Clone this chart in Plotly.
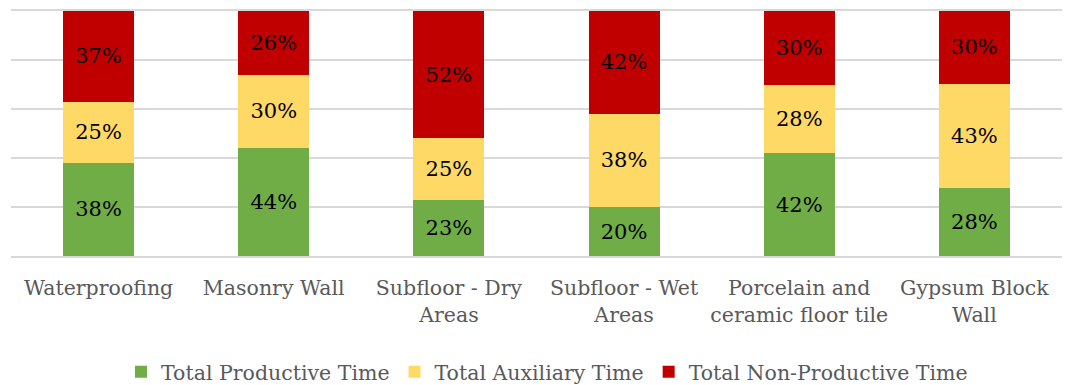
import plotly.graph_objects as go

categories = [
    "Waterproofing",
    "Masonry Wall",
    "Subfloor - Dry<br>Areas",
    "Subfloor - Wet<br>Areas",
    "Porcelain and<br>ceramic floor tile",
    "Gypsum Block<br>Wall",
]
productive = [38, 44, 23, 20, 42, 28]
auxiliary = [25, 30, 25, 38, 28, 43]
non_productive = [37, 26, 52, 42, 30, 30]

series = [
    ("Total Productive Time", productive, "#70AD47"),
    ("Total Auxiliary Time", auxiliary, "#FFD966"),
    ("Total Non-Productive Time", non_productive, "#C00000"),
]

FONT = "DejaVu Serif"
GRID = "#D9D9D9"

fig = go.Figure()
for name, vals, color in series:
    fig.add_trace(go.Bar(
        name=name,
        x=categories,
        y=vals,
        marker=dict(color=color, line=dict(width=0)),
        text=[f"{v}%" for v in vals],
        textposition="inside",
        insidetextanchor="middle",
        textangle=0,
        textfont=dict(family=FONT, size=21, color="#000000"),
    ))

fig.update_layout(
    barmode="stack",
    barnorm="percent",
    bargap=0.595,
    width=1067,
    height=385,
    margin=dict(l=11, r=5, t=11, b=129),
    paper_bgcolor="white",
    plot_bgcolor="white",
    font=dict(family=FONT, color="#595959"),
    legend=dict(
        orientation="h",
        x=0.51,
        xanchor="center",
        yref="container",
        y=0.034,
        yanchor="middle",
        font=dict(family=FONT, size=20.5, color="#595959"),
        traceorder="normal",
        itemwidth=30,
    ),
)
fig.update_xaxes(
    showgrid=False,
    showline=True,
    mirror=True,
    linecolor=GRID,
    linewidth=1.5,
    ticks="",
    tickfont=dict(family=FONT, size=20.5, color="#595959"),
    ticklabelstandoff=13,
)
fig.update_yaxes(
    range=[0, 100],
    dtick=20,
    showticklabels=False,
    showgrid=True,
    gridcolor=GRID,
    gridwidth=1.5,
    zeroline=False,
    showline=False,
    ticks="",
)

fig.write_html("out.html")
